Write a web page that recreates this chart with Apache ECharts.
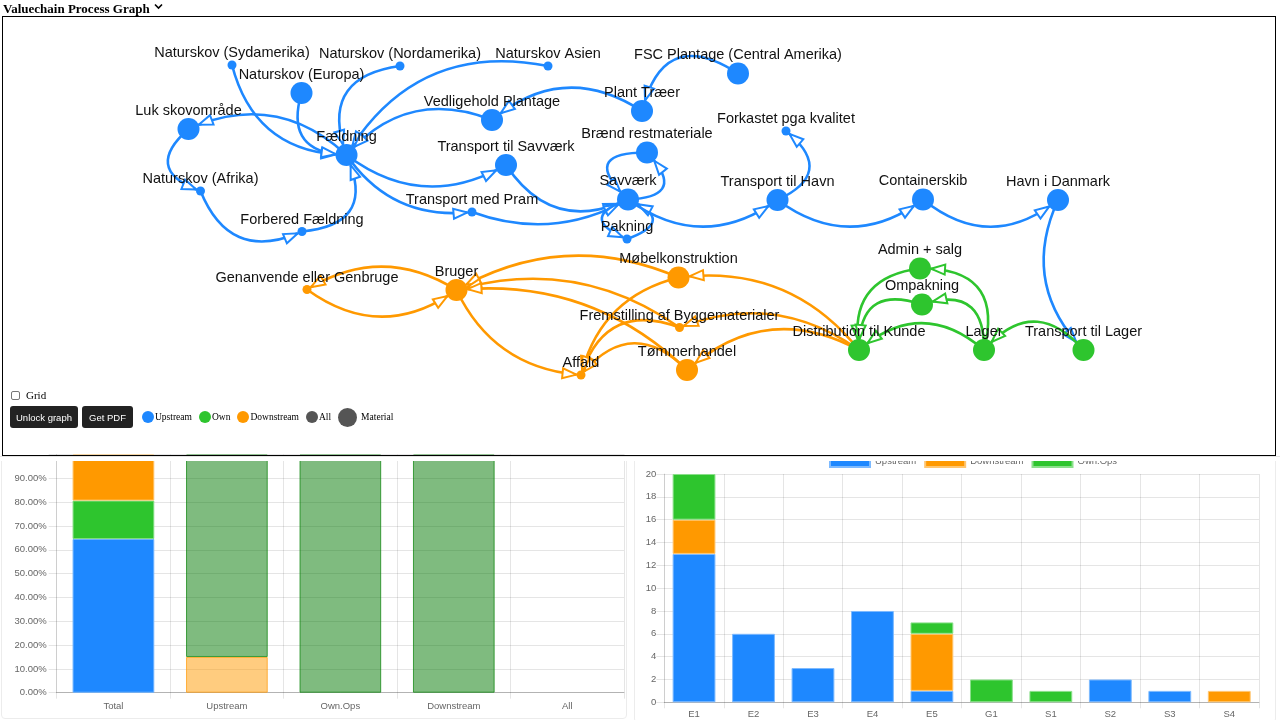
<!DOCTYPE html>
<html>
<head>
<meta charset="utf-8">
<script src="https://cdn.jsdelivr.net/npm/echarts@6/dist/echarts.min.js"></script>
<style>
html,body{margin:0;padding:0;width:1280px;height:720px;overflow:hidden;background:#fff;}
#chart{position:absolute;left:0;top:0;width:1280px;height:720px;}
.ov{position:absolute;}
#title{left:3px;top:1px;font:bold 13px "Liberation Serif","Times New Roman",serif;color:#000;white-space:nowrap;}
#box{left:2px;top:16px;width:1272px;height:438px;border:1px solid #000;pointer-events:none;}
#gridchk{left:11px;top:389px;font:11px "Liberation Serif",serif;color:#000;display:flex;align-items:center;}
#gridchk span.cb{display:inline-block;width:7px;height:7px;border:1px solid #777;border-radius:2px;margin-right:6px;background:#fff;}
.btn{top:406px;height:22px;background:#222;color:#fff;border-radius:3px;font:9.5px "Liberation Sans",Arial,sans-serif;display:flex;align-items:center;justify-content:center;}
.lg{top:406px;height:22px;display:flex;align-items:center;font:9.5px "Liberation Serif",serif;color:#000;}
.dot{display:inline-block;border-radius:50%;margin-right:2px;}
#clip{left:0;top:456px;width:1280px;height:5px;background:#fff;}
#clipline{left:0;top:456px;width:1280px;height:1px;background:#e4e4e4;}
.card{border:1px solid #ececec;border-radius:4px;pointer-events:none;}
</style>
</head>
<body>
<div id="chart"></div>
<div class="ov card" style="left:1px;top:457px;width:624px;height:260px;"></div>
<div class="ov card" style="left:634px;top:457px;width:640px;height:264px;"></div>
<div class="ov" id="clip"></div>
<div class="ov" id="clipline"></div>
<div class="ov" id="title">Valuechain Process Graph <svg width="9" height="7" viewBox="0 0 9 7" style="vertical-align:3px;margin-left:1px"><path d="M1 1.5 L4.5 5 L8 1.5" fill="none" stroke="#000" stroke-width="1.6"/></svg></div>
<div class="ov" id="box"></div>
<div class="ov" id="gridchk"><span class="cb"></span>Grid</div>
<div class="ov btn" style="left:10px;width:68px;">Unlock graph</div>
<div class="ov btn" style="left:82px;width:51px;">Get PDF</div>
<div class="ov lg" id="legendHtml" style="left:142px;"></div>
<script>
// ---------------- DATA ----------------
// Value-chain graph nodes
const nodeNames = [
  'Naturskov (Sydamerika)', 'Naturskov (Nordamerika)', 'Naturskov Asien', 'FSC Plantage (Central Amerika)',
  'Naturskov (Europa)', 'Luk skovområde', 'Fældning', 'Vedligehold Plantage', 'Plant Træer',
  'Transport til Savværk', 'Brænd restmateriale', 'Forkastet pga kvalitet', 'Naturskov (Afrika)',
  'Savværk', 'Transport til Havn', 'Containerskib', 'Havn i Danmark', 'Transport med Pram', 'Pakning',
  'Forbered Fældning',
  'Genanvende eller Genbruge', 'Bruger', 'Møbelkonstruktion', 'Fremstilling af Byggematerialer', 'Affald', 'Tømmerhandel',
  'Admin + salg', 'Ompakning', 'Distribution til Kunde', 'Lager', 'Transport til Lager'
];
// layout position of each node in the graph (graph units)
const nodeX = [232, 400, 548, 738, 301.5, 188.5, 346.5, 492, 642, 506, 647, 786, 200.5, 628, 777.5, 923, 1058, 472, 627, 302,
  307, 456.5, 678.5, 679.5, 581, 687, 920, 922, 859, 984, 1083.5];
const nodeY = [65, 66, 66, 73.5, 93, 129, 155, 120, 111, 165, 152.5, 131, 191, 199.5, 200, 199.5, 200, 212, 239, 231.5,
  289.5, 290, 277.5, 327.5, 375, 370, 268.5, 304.5, 350, 350, 350];
const nodeGroup = [
  'Upstream','Upstream','Upstream','Upstream','Upstream','Upstream','Upstream','Upstream','Upstream','Upstream',
  'Upstream','Upstream','Upstream','Upstream','Upstream','Upstream','Upstream','Upstream','Upstream','Upstream',
  'Downstream','Downstream','Downstream','Downstream','Downstream','Downstream',
  'Own','Own','Own','Own','Own'
];
const nodeKind = [
  'All','All','All','Material','Material','Material','Material','Material','Material','Material',
  'Material','All','All','Material','Material','Material','Material','All','All','All',
  'All','Material','Material','All','All','Material',
  'Material','Material','Material','Material','Material'
];
// process edges [from, to]
const edgeList = [
  ['Naturskov (Sydamerika)', 'Fældning'],
  ['Naturskov (Europa)', 'Fældning'],
  ['Naturskov (Nordamerika)', 'Fældning'],
  ['Naturskov Asien', 'Fældning'],
  ['Vedligehold Plantage', 'Fældning'],
  ['Fældning', 'Luk skovområde'],
  ['Luk skovområde', 'Naturskov (Afrika)'],
  ['Naturskov (Afrika)', 'Forbered Fældning'],
  ['Forbered Fældning', 'Fældning'],
  ['Plant Træer', 'Vedligehold Plantage'],
  ['FSC Plantage (Central Amerika)', 'Plant Træer'],
  ['Fældning', 'Transport til Savværk'],
  ['Fældning', 'Transport med Pram'],
  ['Transport til Savværk', 'Savværk'],
  ['Transport med Pram', 'Savværk'],
  ['Savværk', 'Brænd restmateriale'],
  ['Brænd restmateriale', 'Savværk'],
  ['Savværk', 'Pakning'],
  ['Pakning', 'Savværk'],
  ['Savværk', 'Transport til Havn'],
  ['Transport til Havn', 'Forkastet pga kvalitet'],
  ['Transport til Havn', 'Containerskib'],
  ['Containerskib', 'Havn i Danmark'],
  ['Havn i Danmark', 'Transport til Lager'],
  ['Transport til Lager', 'Lager'],
  ['Lager', 'Admin + salg'],
  ['Lager', 'Ompakning'],
  ['Admin + salg', 'Distribution til Kunde'],
  ['Ompakning', 'Distribution til Kunde'],
  ['Lager', 'Distribution til Kunde'],
  ['Bruger', 'Genanvende eller Genbruge'],
  ['Genanvende eller Genbruge', 'Bruger'],
  ['Bruger', 'Affald'],
  ['Møbelkonstruktion', 'Bruger'],
  ['Fremstilling af Byggematerialer', 'Bruger'],
  ['Tømmerhandel', 'Bruger'],
  ['Distribution til Kunde', 'Møbelkonstruktion'],
  ['Distribution til Kunde', 'Fremstilling af Byggematerialer'],
  ['Distribution til Kunde', 'Tømmerhandel'],
  ['Møbelkonstruktion', 'Affald'],
  ['Fremstilling af Byggematerialer', 'Affald'],
  ['Tømmerhandel', 'Affald']
];
const legendNames = ['Upstream', 'Own', 'Downstream', 'All', 'Material'];

// Share chart (left)
const shareCats = ['Total', 'Upstream', 'Own.Ops', 'Downstream', 'All'];
const shareUpstream   = [64.52, null, null, null, null];
const shareOwn        = [16.13, null, null, null, null];
const shareDownstream = [19.35, null, null, null, null];
const shareCovered    = [null, 15, null, null, null];
const shareRemaining  = [null, 85, 100, 100, null];
const shareTicks = [0, 10, 20, 30, 40, 50, 60, 70, 80, 90];

// Count chart (right)
const countCats = ['E1', 'E2', 'E3', 'E4', 'E5', 'G1', 'S1', 'S2', 'S3', 'S4'];
const countUpstream   = [13, 6, 3, 8, 1, 0, 0, 2, 1, 0];
const countDownstream = [3, 0, 0, 0, 5, 0, 0, 0, 0, 1];
const countOwnOps     = [4, 0, 0, 0, 1, 2, 1, 0, 0, 0];

// ---------------- STYLE ----------------
const COLORS = { Upstream: '#1E88FF', Own: '#2EC52E', Downstream: '#FF9900', All: '#555555', Material: '#555555' };
const KIND_SIZE = { Material: 22, All: 9 };
// bend of each edge, in the same order as edgeList
const edgeCurve = [-0.38, -0.65, -0.62, -0.35, -0.35, -0.33, -0.85, -0.52, -0.7, -0.37, -0.7, -0.33, -0.3, -0.43, -0.23,
  -1.1, -1.26, -1.3, -1.28, -0.36, -0.8, -0.37, -0.4, -0.34, -0.57, -0.65, -0.7, -0.52, -0.7, -0.43,
  -0.31, -0.36, -0.29, -0.25, -0.24, -0.23, -0.28, -0.27, -0.35, -0.3, -0.52, -0.55];
const ARROW = 'emptyPath://M0,0 M28,28 M14,14 L19,28 L9,28 Z';
const FONT = '"Liberation Sans", Arial, Helvetica, sans-serif';
const GRIDC = 'rgba(0,0,0,0.1)';

// html legend
const lgEl = document.getElementById('legendHtml');
legendNames.forEach(function (n) {
  const s = n === 'Material' ? 19 : 12;
  const item = document.createElement('span');
  item.style.cssText = 'display:inline-flex;align-items:center;margin-right:' + (n === 'Material' ? 0 : 7) + 'px;';
  item.innerHTML = '<span class="dot" style="width:' + s + 'px;height:' + s + 'px;background:' + COLORS[n] + ';margin-right:' + (n === 'Material' ? 4 : 1) + 'px"></span>' + n;
  lgEl.appendChild(item);
});

const groupIdx = {};
nodeNames.forEach(function (n, i) { groupIdx[n] = nodeGroup[i]; });
function edgeColor(a, b) {
  const ga = groupIdx[a], gb = groupIdx[b];
  if (ga === 'Upstream' || gb === 'Upstream') return COLORS.Upstream;
  if (ga === 'Downstream' || gb === 'Downstream') return COLORS.Downstream;
  return COLORS.Own;
}

const graphNodes = nodeNames.map(function (n, i) {
  return {
    name: n,
    value: [nodeX[i], nodeY[i]],
    symbolSize: KIND_SIZE[nodeKind[i]],
    itemStyle: { color: COLORS[nodeGroup[i]] }
  };
});
const graphLinks = edgeList.map(function (e, i) {
  return { source: e[0], target: e[1], lineStyle: { color: edgeColor(e[0], e[1]), curveness: edgeCurve[i] } };
});

// zero counts are not drawn as bars
function nz(arr) { return arr.map(function (v) { return v === 0 ? null : v; }); }
function barStyle(color, border) {
  return { color: color, borderColor: border, borderWidth: 1 };
}

const chart = echarts.init(document.getElementById('chart'), null, { renderer: 'canvas' });
chart.setOption({
  animation: false,
  textStyle: { fontFamily: FONT },
  grid: [
    { left: 0, top: 0, width: 1280, height: 720, outerBoundsMode: 'none', containLabel: false },
    { left: 56.7, top: 454.5, width: 567.3, height: 238.2, outerBoundsMode: 'none', containLabel: false },
    { left: 664.3, top: 474, width: 594.7, height: 228.3, outerBoundsMode: 'none', containLabel: false }
  ],
  xAxis: [
    { gridIndex: 0, type: 'value', min: 0, max: 1280, show: false },
    { gridIndex: 1, type: 'category', data: shareCats,
      axisLine: { lineStyle: { color: 'rgba(0,0,0,0.22)' } },
      axisTick: { show: true, length: 6, lineStyle: { color: GRIDC } },
      splitLine: { show: true, lineStyle: { color: GRIDC } },
      axisLabel: { color: '#666', fontSize: 9.5, margin: 9 } },
    { gridIndex: 2, type: 'category', data: countCats,
      axisLine: { lineStyle: { color: 'rgba(0,0,0,0.22)' } },
      axisTick: { show: true, length: 6, lineStyle: { color: GRIDC } },
      splitLine: { show: true, lineStyle: { color: GRIDC } },
      axisLabel: { color: '#666', fontSize: 9.5, margin: 7 } }
  ],
  yAxis: [
    { gridIndex: 0, type: 'value', min: 0, max: 720, inverse: true, show: false },
    { gridIndex: 1, type: 'value', min: 0, max: 100, interval: 10,
      axisLine: { show: true, lineStyle: { color: GRIDC } },
      axisTick: { show: true, length: 8, lineStyle: { color: GRIDC } },
      splitLine: { show: true, lineStyle: { color: GRIDC } },
      axisLabel: { color: '#666', fontSize: 9.5, margin: 10,
        formatter: function (v) { return shareTicks.indexOf(v) >= 0 ? v.toFixed(2) + '%' : ''; } } },
    { gridIndex: 2, type: 'value', min: 0, max: 20, interval: 2,
      axisLine: { show: true, lineStyle: { color: GRIDC } },
      axisTick: { show: true, length: 8, lineStyle: { color: GRIDC } },
      splitLine: { show: true, lineStyle: { color: GRIDC } },
      axisLabel: { color: '#666', fontSize: 9.5, margin: 8 } }
  ],
  legend: {
    left: 829, top: 455, padding: 0, itemWidth: 40, itemHeight: 11, itemGap: 8, icon: 'rect',
    textStyle: { color: '#666', fontSize: 9.5 },
    data: ['Upstream', 'Downstream', 'Own.Ops']
  },
  series: [
    {
      type: 'graph', coordinateSystem: 'cartesian2d', xAxisIndex: 0, yAxisIndex: 0,
      data: graphNodes, links: graphLinks,
      edgeSymbol: ['none', ARROW], edgeSymbolSize: 28,
      lineStyle: { width: 2.6, opacity: 1 },
      label: { show: true, position: 'top', distance: 0, color: '#111', fontSize: 14.5, fontFamily: FONT },
      emphasis: { disabled: true },
      silent: true, z: 3
    },
    { name: 'Total Upstream', type: 'bar', xAxisIndex: 1, yAxisIndex: 1, stack: 'share', barWidth: '72%',
      data: shareUpstream, itemStyle: barStyle(COLORS.Upstream, '#6cb2ff') },
    { name: 'Total Own', type: 'bar', xAxisIndex: 1, yAxisIndex: 1, stack: 'share',
      data: shareOwn, itemStyle: barStyle(COLORS.Own, '#7fdc7f') },
    { name: 'Total Downstream', type: 'bar', xAxisIndex: 1, yAxisIndex: 1, stack: 'share',
      data: shareDownstream, itemStyle: barStyle(COLORS.Downstream, '#ffc060') },
    { name: 'Covered', type: 'bar', xAxisIndex: 1, yAxisIndex: 1, stack: 'share',
      data: shareCovered, itemStyle: barStyle('rgba(255,153,0,0.5)', 'rgba(255,153,0,0.7)') },
    { name: 'Remaining', type: 'bar', xAxisIndex: 1, yAxisIndex: 1, stack: 'share',
      data: shareRemaining, itemStyle: barStyle('rgba(0,120,0,0.5)', 'rgba(0,128,0,0.7)') },
    { name: 'Upstream', type: 'bar', xAxisIndex: 2, yAxisIndex: 2, stack: 'count', barWidth: '72%',
      data: nz(countUpstream), itemStyle: barStyle(COLORS.Upstream, '#7dbaff') },
    { name: 'Downstream', type: 'bar', xAxisIndex: 2, yAxisIndex: 2, stack: 'count',
      data: nz(countDownstream), itemStyle: barStyle(COLORS.Downstream, '#ffc670') },
    { name: 'Own.Ops', type: 'bar', xAxisIndex: 2, yAxisIndex: 2, stack: 'count',
      data: nz(countOwnOps), itemStyle: barStyle(COLORS.Own, '#8be08b') }
  ]
});
</script>
</body>
</html>
